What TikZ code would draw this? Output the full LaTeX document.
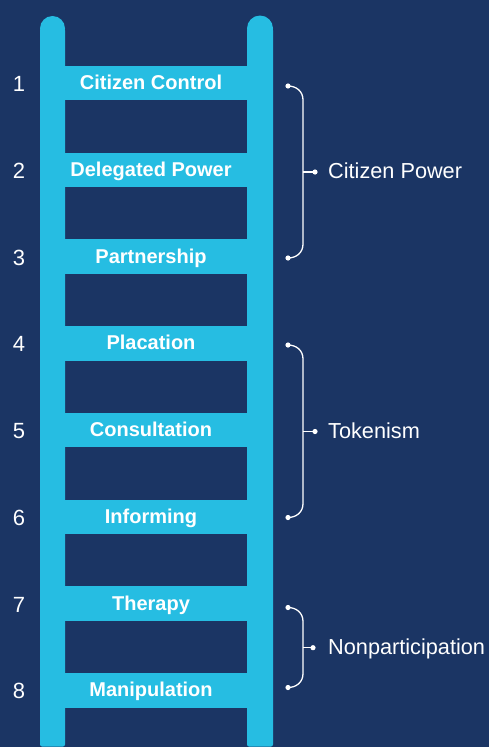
\documentclass[tikz,border=0pt]{standalone}
\usepackage{fontspec}
\setmainfont{Liberation Sans}
\definecolor{bg}{HTML}{1B3564}
\definecolor{lad}{HTML}{26BDE2}
\begin{document}
\begin{tikzpicture}[x=1pt,y=-1pt,
  rungtext/.style={anchor=base,text=white,font=\fontsize{20}{20}\selectfont\bfseries,inner sep=0pt},
  numtext/.style={anchor=base,text=white,font=\fontsize{22}{22}\selectfont,inner sep=0pt},
  grouptext/.style={anchor=base west,text=white,font=\fontsize{21.7}{21.7}\selectfont,inner sep=0pt},
  bracestyle/.style={draw=white,line width=1.3pt},
  dotstyle/.style={fill=white}]
\fill[bg] (0,0) rectangle (489,747);
\useasboundingbox (0,0) rectangle (489,747);
% rails
\fill[lad,rounded corners=2pt] (40,28.5) rectangle (65,746.5);
\fill[lad] (52.5,28.5) circle (12.5);
\fill[lad,rounded corners=2pt] (247,28.5) rectangle (273,746.5);
\fill[lad] (260,28.5) circle (13);
% rungs
\foreach \i/\lab in {1/Citizen Control,2/Delegated Power,3/Partnership,4/Placation,5/Consultation,6/Informing,7/Therapy,8/Manipulation}{
  \pgfmathsetmacro{\yc}{83+(\i-1)*86.75}
  \fill[lad] (60,\yc-17.25) rectangle (252,\yc+17.25);
  \node[rungtext] (rung\i) at (151,\yc+6.5) {\lab};
  \node[numtext] (num\i) at (19,\yc+8.7) {\i};
}
% braces
\newcommand{\grpbrace}[6]{%
  \coordinate (#6top) at (288,#1);
  \coordinate (#6bot) at (288,#2);
  \coordinate (#6mid) at (#4,#3);
  \draw[bracestyle] (#6top) .. controls (296,#1) and (303,#1+5) .. (303,#1+14)
     -- (303,#2-14) .. controls (303,#2-5) and (296,#2) .. (#6bot);
  \draw[bracestyle] (303,#3) -- (#6mid);
  \fill[dotstyle] (#6top) circle (2.6);
  \fill[dotstyle] (#6bot) circle (2.6);
  \fill[dotstyle] (#6mid) circle (2.6);
  \node[grouptext] (#6label) at (328,#3+6.5) {#5};
}
\grpbrace{86}{258}{172}{315}{Citizen Power}{cp}
\grpbrace{345}{517.5}{431.5}{315}{Tokenism}{tk}
\grpbrace{607.5}{687.5}{647.7}{313}{Nonparticipation}{np}
\end{tikzpicture}
\end{document}
